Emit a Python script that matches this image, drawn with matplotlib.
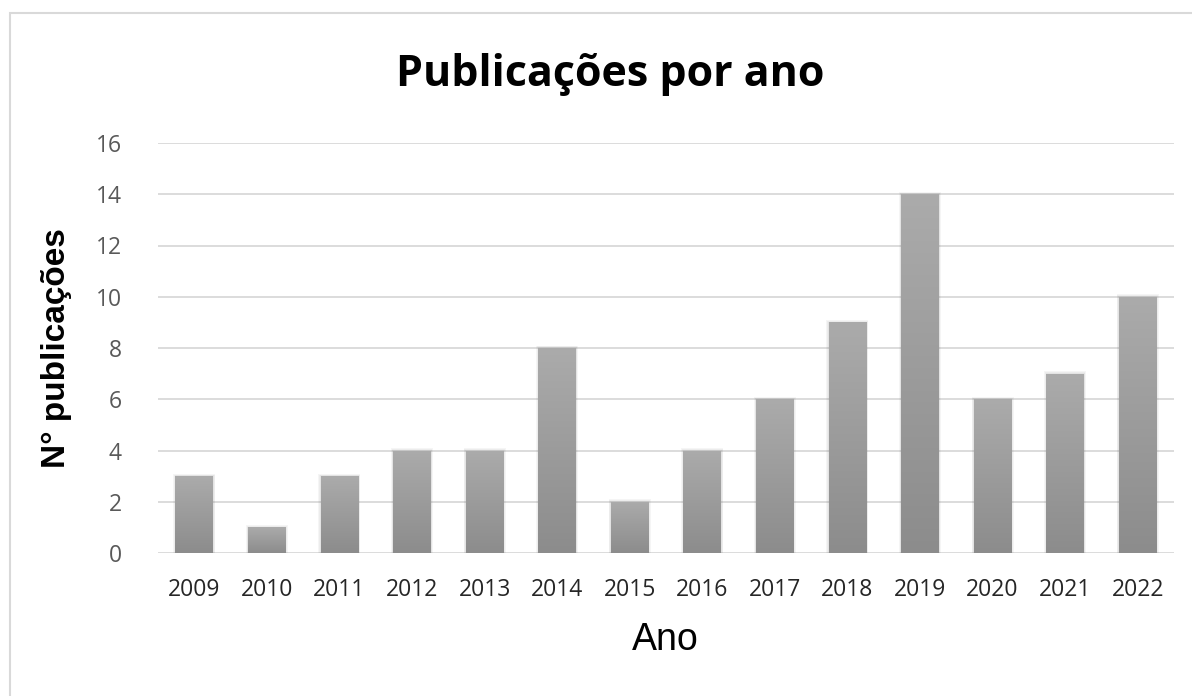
import numpy as np
import matplotlib.pyplot as plt
from matplotlib.patches import Rectangle

# dados
anos = ["2009", "2010", "2011", "2012", "2013", "2014", "2015",
        "2016", "2017", "2018", "2019", "2020", "2021", "2022"]
publicacoes = [3, 1, 3, 4, 4, 8, 2, 4, 6, 9, 14, 6, 7, 10]
y_ticks = [0, 2, 4, 6, 8, 10, 12, 14, 16]

fig = plt.figure(figsize=(11.92, 6.96), dpi=100)
ax = fig.add_axes([158 / 1192, 1 - 553 / 696, (1174 - 158) / 1192, (553 - 143) / 696])

x = np.arange(len(anos))
bars = ax.bar(x, publicacoes, width=0.52, color="#9e9e9e", zorder=3)

# gradiente nas barras (claro em cima, escuro em baixo)
grad = np.linspace(0, 1, 256).reshape(-1, 1)
cmap = plt.matplotlib.colors.LinearSegmentedColormap.from_list("g", ["#8c8c8c", "#ababab"])
for b in bars:
    bx, by = b.get_x(), b.get_y()
    w, h = b.get_width(), b.get_height()
    # sombra suave
    for k in range(1, 4):
        sh = Rectangle((bx - 0.01 * k, by), w + 0.02 * k, h + 0.03 * k,
                       facecolor="#606060", alpha=0.06, edgecolor="none", zorder=2)
        ax.add_patch(sh)
    im = ax.imshow(grad, extent=[bx, bx + w, by, by + h], origin="lower",
                   cmap=cmap, aspect="auto", zorder=4)
    im.set_clip_path(b)

ax.set_xlim(-0.5, len(anos) - 0.5)
ax.set_ylim(0, 16)
ax.set_yticks(y_ticks)
ax.set_xticks(x)
ax.set_xticklabels(anos, fontsize=16.5, color="#262626", family="Open Sans")
ax.set_yticklabels([str(v) for v in y_ticks], fontsize=16.5, color="#595959", family="Open Sans")
ax.tick_params(length=0)
ax.tick_params(axis="y", pad=26)
ax.tick_params(axis="x", pad=18)
ax.grid(axis="y", color="#d9d9d9", linewidth=1.3, zorder=0)
for s in ax.spines.values():
    s.set_visible(False)

fig.text(610 / 1192, 1 - 75 / 696, "Publicações por ano", fontsize=31, fontweight="bold",
         family="Open Sans", ha="center", va="center", color="black")
fig.text(57 / 1192, 1 - 348 / 696, "N° publicações", fontsize=24, rotation=90, fontweight="bold",
         family="Liberation Sans", ha="center", va="center", color="black")
fig.text(665 / 1192, 1 - 640 / 696, "Ano", fontsize=27,
         family="Liberation Sans", ha="center", va="center", color="black")

# moldura do gráfico
fig.patches.append(Rectangle((10 / 1192, -0.01), 1.2, 1 - 13 / 696 + 0.01,
                             transform=fig.transFigure, fill=False,
                             edgecolor="#d9d9d9", linewidth=1.5))

fig.savefig("out.png", dpi=100)
